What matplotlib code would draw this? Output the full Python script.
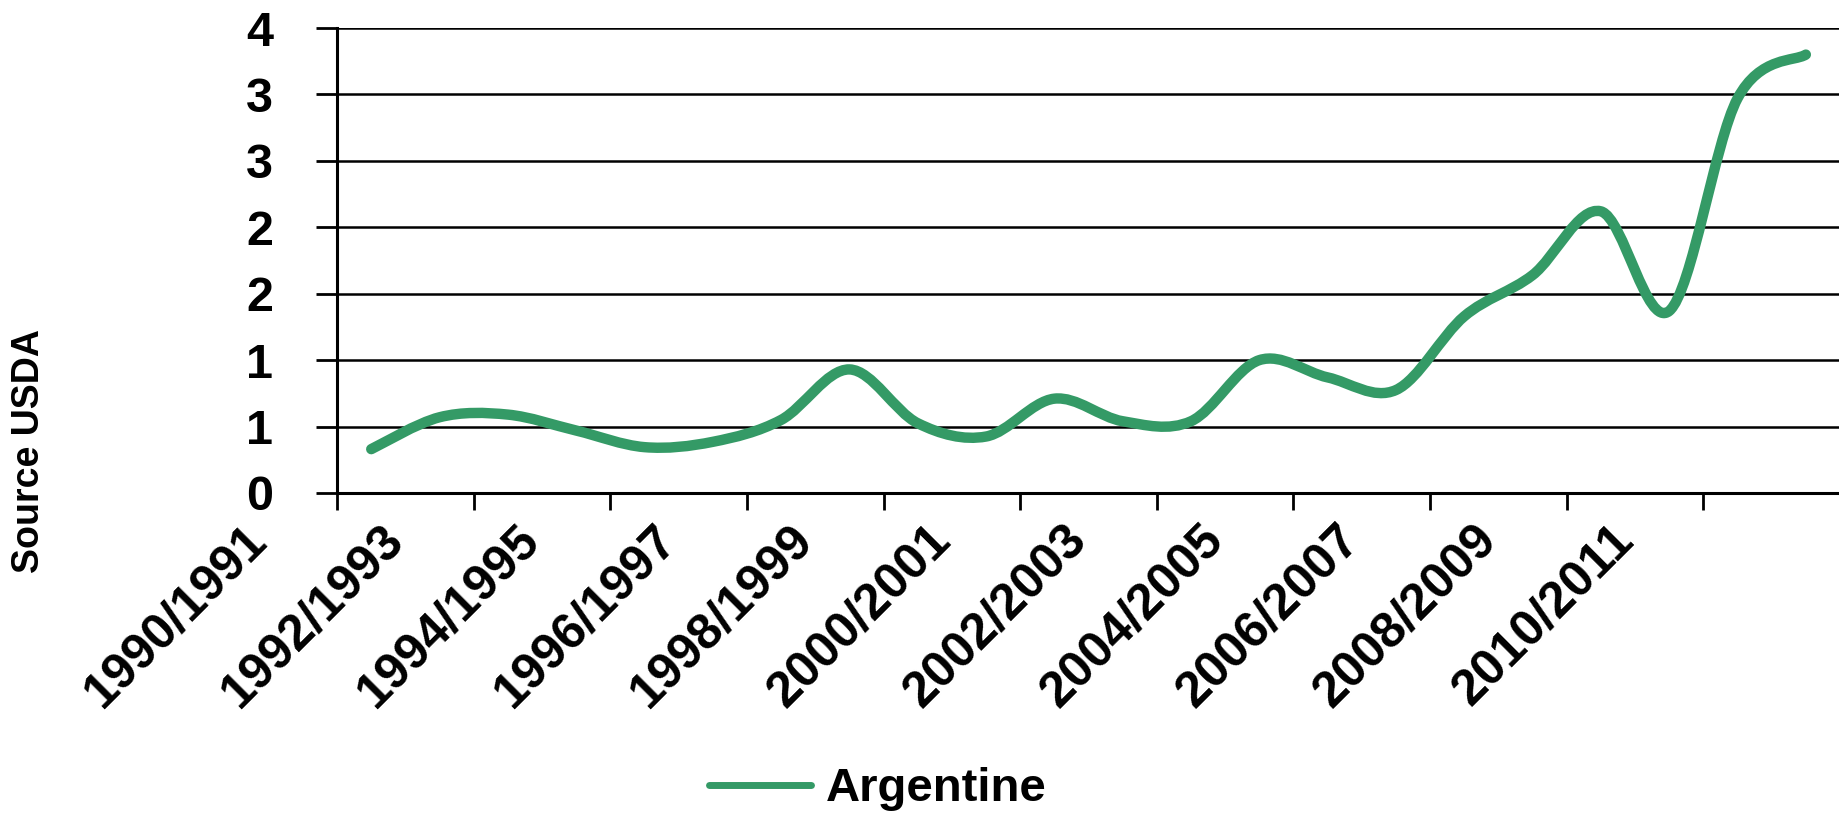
import numpy as np
import matplotlib
matplotlib.use("Agg")
import matplotlib.pyplot as plt
from matplotlib.path import Path
from matplotlib.patches import PathPatch
from matplotlib.lines import Line2D
from matplotlib.transforms import ScaledTranslation

plt.rcParams['font.family'] = ['Liberation Sans', 'DejaVu Sans']
plt.rcParams['font.weight'] = 'bold'

# data
seasons = ["1990/1991", "1991/1992", "1992/1993", "1993/1994", "1994/1995",
           "1995/1996", "1996/1997", "1997/1998", "1998/1999", "1999/2000",
           "2000/2001", "2001/2002", "2002/2003", "2003/2004", "2004/2005",
           "2005/2006", "2006/2007", "2007/2008", "2008/2009", "2009/2010",
           "2010/2011", "2011/2012"]
argentine = [0.33, 0.57, 0.59, 0.47, 0.345, 0.385, 0.55, 0.93, 0.525, 0.425,
             0.71, 0.54, 0.54, 1.0, 0.87, 0.775, 1.33, 1.64, 2.12, 1.37,
             2.97, 3.30]
yticks = [0, 0.5, 1, 1.5, 2, 2.5, 3, 3.5]
ytick_labels = ["0", "1", "1", "2", "2", "3", "3", "4"]
series_name = "Argentine"
ylabel = "Source USDA"

green = "#349a66"

fig = plt.figure(figsize=(18.4, 8.17), dpi=100)
ax = fig.add_axes([0.1832, 0.3966, 0.8168, 0.5691])

# smoothed line (excel style bezier through the points)
x = np.arange(len(argentine), dtype=float)
y = np.array(argentine)
pts = np.column_stack([x, y])
ext = np.vstack([pts[0], pts, pts[-1]])
verts = [tuple(pts[0])]
codes = [Path.MOVETO]
for i in range(len(pts) - 1):
    p0, p1, p2, p3 = ext[i], ext[i + 1], ext[i + 2], ext[i + 3]
    c1 = p1 + (p2 - p0) / 6
    c2 = p2 - (p3 - p1) / 6
    verts += [tuple(c1), tuple(c2), tuple(p2)]
    codes += [Path.CURVE4] * 3
patch = PathPatch(Path(verts, codes), facecolor="none", edgecolor=green,
                  lw=7.5, capstyle="round", joinstyle="round", zorder=3)
ax.add_patch(patch)

ax.set_xlim(-0.5, len(seasons) - 0.5)
ax.set_ylim(0, 3.5)

# y axis
ax.set_yticks(yticks)
ax.set_yticklabels(ytick_labels)
ax.yaxis.grid(True, color="black", lw=1.8)
ax.set_axisbelow(True)
ax.tick_params(axis="y", direction="out", length=15, width=2, pad=31,
               labelsize=35)

# x axis: tick marks between every 2 categories, labels on even categories
ax.set_xticks(np.arange(-0.5, len(seasons), 2))
ax.set_xticklabels([])
ax.set_xticks(np.arange(0, len(seasons) - 1, 2), minor=True)
ax.set_xticklabels(seasons[::2][:11], minor=True)
ax.tick_params(axis="x", which="major", direction="out", length=12, width=2)
ax.tick_params(axis="x", which="minor", length=0, pad=17, labelsize=36)
shift = ScaledTranslation(-1.28, 0, fig.dpi_scale_trans)
for lab in ax.get_xticklabels(minor=True):
    lab.set_rotation(45)
    lab.set_ha("right")
    lab.set_va("top")
    lab.set_rotation_mode("anchor")
    lab.set_transform(lab.get_transform() + shift)

for s in ["top", "right"]:
    ax.spines[s].set_visible(False)
for s in ["left", "bottom"]:
    ax.spines[s].set_linewidth(2.2)

fig.text(0.0155, 0.448, ylabel, rotation=90, ha="center", va="center",
         fontsize=27, fontweight="bold")

handle = Line2D([], [], color=green, lw=5, solid_capstyle="round")
fig.legend([handle], [series_name], loc="center", bbox_to_anchor=(0.477, 0.034),
           frameon=False, fontsize=34, handlelength=2.16, handletextpad=0.3)

plt.savefig("out.png", dpi=100)
